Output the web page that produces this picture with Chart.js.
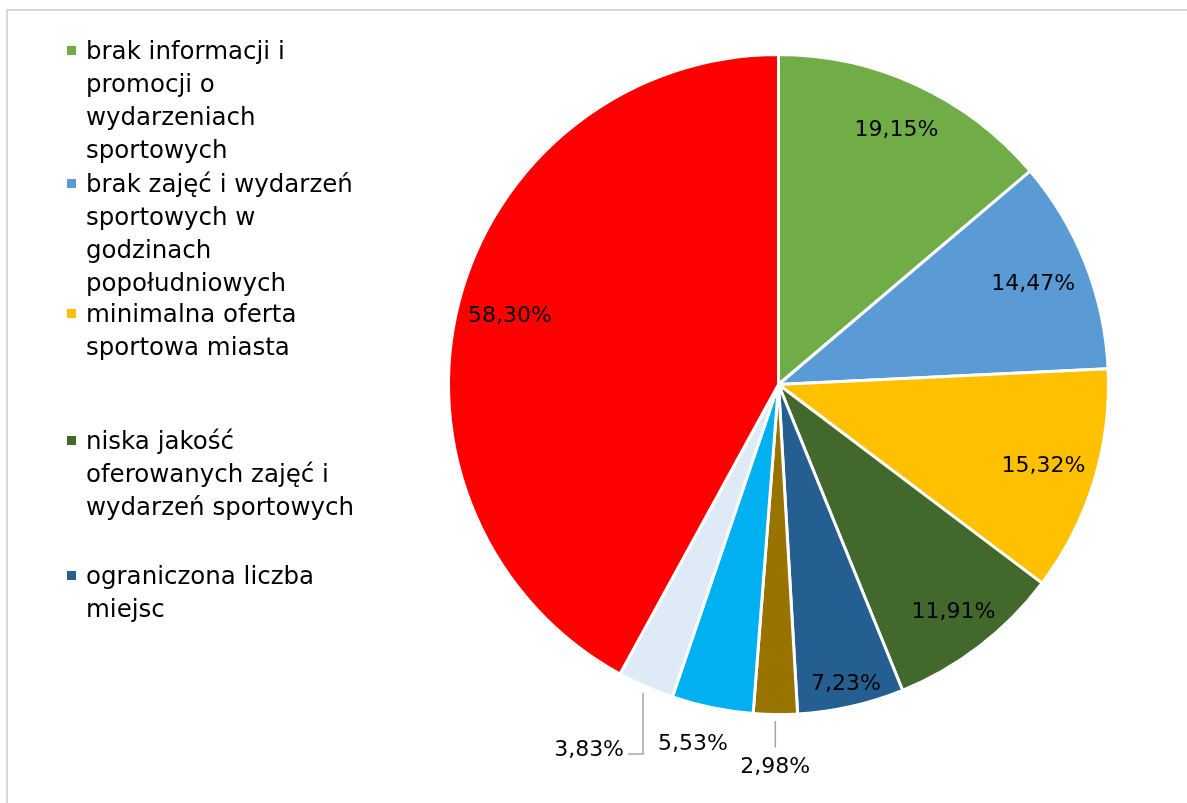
<!DOCTYPE html>
<html lang="pl">
<head>
<meta charset="utf-8">
<script src="https://cdn.jsdelivr.net/npm/chart.js@4/dist/chart.umd.min.js"></script>
<style>
  html, body { margin: 0; padding: 0; background: #fff; overflow: hidden; }
  #wrap { position: relative; width: 1187px; height: 803px; }
  #frame {
    position: absolute; left: 6px; top: 9px; width: 1300px; height: 900px;
    border: 2px solid #d9d9d9; box-sizing: border-box;
  }
  #pie { position: absolute; left: 0; top: 0; }
  #legend {
    position: absolute; left: 0; top: 0; width: 420px; height: 803px;
    font-family: "DejaVu Sans", sans-serif; font-size: 24.5px; color: #000;
  }
  .item { position: absolute; left: 86px; line-height: 33px; white-space: nowrap; }
  .box { position: absolute; left: -19px; top: 12px; width: 9px; height: 9px; }
</style>
</head>
<body>
<div id="wrap">
  <div id="frame"></div>
  <canvas id="pie" width="1187" height="803"></canvas>
  <div id="legend"></div>
</div>
<script>
// powody - odpowiedzi w % (wielokrotny wybór)
const categories = [
  ["brak informacji i", "promocji o", "wydarzeniach", "sportowych"],
  ["brak zajęć i wydarzeń", "sportowych w", "godzinach", "popołudniowych"],
  ["minimalna oferta", "sportowa miasta"],
  ["niska jakość", "oferowanych zajęć i", "wydarzeń sportowych"],
  ["ograniczona liczba", "miejsc"],
  "",
  "",
  "",
  ""
];
const values = [19.15, 14.47, 15.32, 11.91, 7.23, 2.98, 5.53, 3.83, 58.3];
const colors = [
  "#70ad47", "#5b9bd5", "#ffc000", "#43682b", "#255e91",
  "#997300", "#00b0f0", "#deebf7", "#ff0000"
];

// where each value label sits: fraction of the radius along the slice middle,
// optional angle shift in degrees, leader lines for the thin slices
const labelLayout = [
  { r: 0.85 }, { r: 0.83 }, { r: 0.84 }, { r: 0.87 }, { r: 0.93 },
  { leader: "down", r0: 1.02, r1: 1.1 },
  { r: 1.12, da: 1.8 },
  { leader: "elbow", r0: 1.02, r1: 1.12 },
  { r: 0.84 }
];
// first line centre of every legend entry
const legendTops = [50, 183, 313, 440, 575];

const fmt = (v) => v.toFixed(2).replace(".", ",") + "%";

const valueLabels = {
  id: "valueLabels",
  afterDatasetsDraw(chart) {
    const ctx = chart.ctx;
    const arcs = chart.getDatasetMeta(0).data;
    ctx.save();
    ctx.font = "22px 'DejaVu Sans', sans-serif";
    ctx.fillStyle = "#000";
    ctx.strokeStyle = "#a6a6a6";
    ctx.lineWidth = 1.5;
    arcs.forEach((arc, i) => {
      const lay = labelLayout[i];
      const mid = (arc.startAngle + arc.endAngle) / 2 + ((lay.da || 0) * Math.PI) / 180;
      const R = arc.outerRadius;
      const text = fmt(values[i]);
      if (!lay.leader) {
        ctx.textAlign = "center";
        ctx.textBaseline = "middle";
        ctx.fillText(text, arc.x + Math.cos(mid) * R * lay.r, arc.y + Math.sin(mid) * R * lay.r);
        return;
      }
      const sx = arc.x + Math.cos(mid) * R * lay.r0;
      const sy = arc.y + Math.sin(mid) * R * lay.r0;
      const ey = arc.y + R * lay.r1;
      ctx.beginPath();
      ctx.moveTo(sx, sy);
      ctx.lineTo(sx, ey);
      if (lay.leader === "elbow") {
        ctx.lineTo(sx - 15, ey);
        ctx.stroke();
        ctx.textAlign = "right";
        ctx.textBaseline = "middle";
        ctx.fillText(text, sx - 19, ey - 4);
      } else {
        ctx.stroke();
        ctx.textAlign = "center";
        ctx.textBaseline = "top";
        ctx.fillText(text, sx, ey + 9);
      }
    });
    ctx.restore();
  }
};

const chart = new Chart(document.getElementById("pie"), {
  type: "pie",
  data: {
    labels: categories,
    datasets: [{
      data: values,
      backgroundColor: colors,
      borderColor: "#ffffff",
      borderWidth: 3
    }]
  },
  options: {
    responsive: false,
    animation: false,
    events: [],
    layout: { padding: { left: 447, right: 77, top: 53, bottom: 87 } },
    plugins: {
      legend: { display: false },
      tooltip: { enabled: false }
    }
  },
  plugins: [valueLabels]
});

// legend entries (only the named categories are listed)
const legend = document.getElementById("legend");
chart.data.labels.forEach((lab, i) => {
  if (!lab) return;
  const item = document.createElement("div");
  item.className = "item";
  item.style.top = (legendTops[i] - 16.5) + "px";
  item.innerHTML = `<span class="box" style="background:${colors[i]}"></span>` +
    lab.join("<br>");
  legend.appendChild(item);
});
</script>
</body>
</html>
